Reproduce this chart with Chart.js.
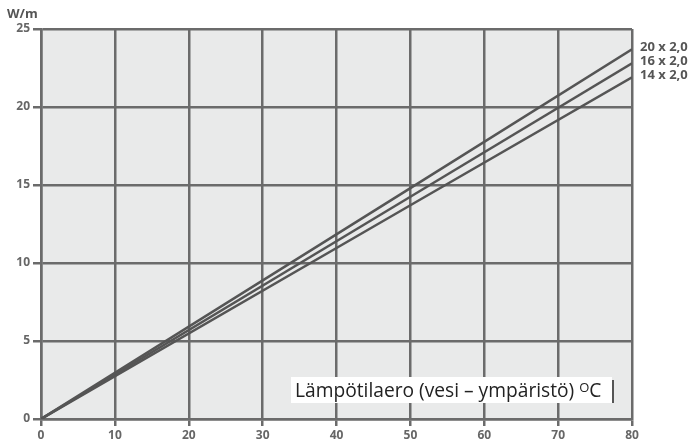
<!DOCTYPE html>
<html>
<head>
<meta charset="utf-8">
<script src="https://cdn.jsdelivr.net/npm/chart.js@4.4.1/dist/chart.umd.min.js"></script>
<style>
  html, body { margin: 0; padding: 0; background: #fff; }
  #wrap { width: 694px; height: 443px; position: relative; }
</style>
</head>
<body>
<div id="wrap"><canvas id="c" width="694" height="443"></canvas></div>
<script>
// --- data ---
const xValues = [0, 50, 80];              // temperature difference, degC
const pipe20 = [0, 14.8, 23.7];           // 20 x 2,0
const pipe16 = [0, 14.25, 22.8];          // 16 x 2,0
const pipe14 = [0, 13.7, 21.9];           // 14 x 2,0
const seriesNames = ['20 x 2,0', '16 x 2,0', '14 x 2,0'];
const xTicks = [0, 10, 20, 30, 40, 50, 60, 70, 80];
const yTicks = [0, 5, 10, 15, 20, 25];

const GRID = '#6b6b6b';
const LINE = '#555555';
const FONT = '"Open Sans", "DejaVu Sans", sans-serif';

const toPoints = (ys) => ys.map((y, i) => ({ x: xValues[i], y: y }));

// fond gris + textes
const decor = {
    id: 'decor',
    beforeDraw(chart) {
        const { ctx, chartArea: a } = chart;
        ctx.save();
        ctx.fillStyle = '#e9eaea';
        ctx.fillRect(a.left, a.top, a.right - a.left, a.bottom - a.top);
        ctx.restore();
    },
    afterDraw(chart) {
        const { ctx, chartArea: a, scales } = chart;
        ctx.save();
        // unit
        ctx.fillStyle = '#555';
        ctx.font = 'bold 13px ' + FONT;
        ctx.textAlign = 'left';
        ctx.textBaseline = 'middle';
        ctx.fillText('W/m', 7, 14);

        // series names at line ends
        ctx.font = 'bold 13px ' + FONT;
        chart.data.datasets.forEach((ds, i) => {
            const last = ds.data[ds.data.length - 1];
            const y = scales.y.getPixelForValue(last.y) - 2;
            ctx.fillText(seriesNames[i], a.right + 8, y);
        });

        // axis title box
        const bx = 291, by = 377, bw = 321, bh = 26;
        ctx.fillStyle = '#ffffff';
        ctx.fillRect(bx, by, bw, bh);
        ctx.fillStyle = '#555';
        ctx.fillRect(bx + bw, by + 3, 2, bh - 3);

        ctx.fillStyle = '#222';
        ctx.textBaseline = 'alphabetic';
        ctx.font = '19.2px ' + FONT;
        let tx = bx + 4;
        const base = by + 20;
        const t1 = 'Lämpötilaero (vesi – ympäristö) ';
        ctx.fillText(t1, tx, base);
        tx += ctx.measureText(t1).width;
        ctx.font = '13px ' + FONT;
        ctx.fillText('O', tx, base - 5);
        tx += ctx.measureText('O').width;
        ctx.font = '19.2px ' + FONT;
        ctx.fillText('C', tx, base);
        ctx.restore();
    }
};

const mkDs = (ys) => ({
    data: toPoints(ys),
    borderColor: LINE,
    borderWidth: 2.5,
    pointRadius: 0,
    tension: 0,
    fill: false
});

new Chart(document.getElementById('c'), {
    type: 'line',
    data: {
        datasets: [mkDs(pipe20), mkDs(pipe16), mkDs(pipe14)]
    },
    options: {
        responsive: false,
        animation: false,
        layout: { padding: { top: 29, right: 62, left: 0, bottom: 0 } },
        plugins: { legend: { display: false }, tooltip: { enabled: false } },
        scales: {
            x: {
                type: 'linear',
                min: 0, max: 80,
                afterBuildTicks: (s) => { s.ticks = xTicks.map(v => ({ value: v })); },
                afterFit: (s) => { s.height = 24; },
                grid: { color: GRID, lineWidth: 2.5, tickLength: 7, drawTicks: true },
                border: { color: GRID, width: 2.5 },
                ticks: { color: '#666', padding: 2, font: { family: FONT, size: 12, weight: 'bold' } }
            },
            y: {
                min: 0, max: 25,
                afterBuildTicks: (s) => { s.ticks = yTicks.map(v => ({ value: v })); },
                afterFit: (s) => { s.width = 41; },
                grid: { color: GRID, lineWidth: 2.5, tickLength: 8, drawTicks: true },
                border: { color: GRID, width: 2.5 },
                ticks: { color: '#666', padding: 3, font: { family: FONT, size: 12, weight: 'bold' } }
            }
        }
    },
    plugins: [decor]
});
</script>
</body>
</html>
